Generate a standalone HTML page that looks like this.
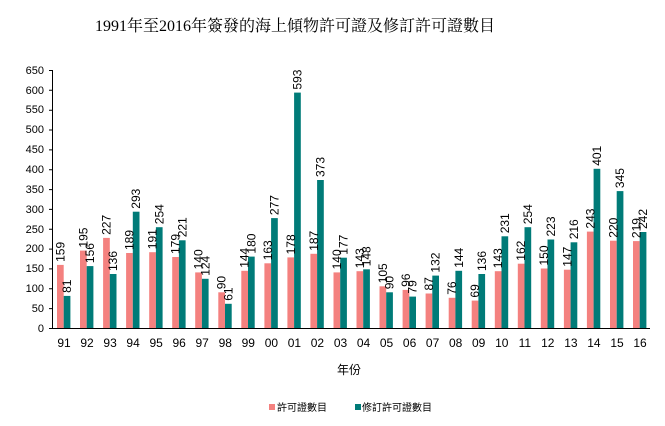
<!DOCTYPE html>
<html><head><meta charset="utf-8"><style>
body{margin:0;background:#fff}
svg{display:block}
text{font-family:"Liberation Sans","Noto Sans CJK TC",sans-serif;font-size:11px;fill:#000}
.l{dominant-baseline:central;font-size:12px}
.p{fill:#F4817F}.t{fill:#007B78}
</style></head><body>
<svg width="665" height="426" viewBox="0 0 665 426">
<text x="295" y="31" text-anchor="middle" style="font-family:'Liberation Serif','Noto Serif CJK SC',serif;font-size:16px">1991年至2016年簽發的海上傾物許可證及修訂許可證數目</text>
<g text-anchor="end">
<text x="44" y="332">0</text><text x="44" y="312">50</text><text x="44" y="292">100</text><text x="44" y="272">150</text><text x="44" y="252">200</text><text x="44" y="233">250</text><text x="44" y="213">300</text><text x="44" y="193">350</text><text x="44" y="173">400</text><text x="44" y="153">450</text><text x="44" y="133">500</text><text x="44" y="113">550</text><text x="44" y="94">600</text><text x="44" y="74">650</text>
</g>
<g stroke="#000" stroke-width="1">
<line x1="52.5" y1="70" x2="52.5" y2="328.5"/>
<line x1="52.5" y1="328.5" x2="650" y2="328.5"/>
<path d="M49 328.5h4M49 308.6h4M49 288.8h4M49 268.9h4M49 249.1h4M49 229.3h4M49 209.4h4M49 189.6h4M49 169.7h4M49 149.9h4M49 130h4M49 110.2h4M49 90.3h4M49 70.5h4"/>
</g>
<g id="bars">
<g transform="translate(52.5,0)"><rect class="p" x="4.5" y="264.9" width="6.7" height="63.1"/><rect class="t" x="11.2" y="295.9" width="6.7" height="32.1"/><text class="l" transform="translate(7.9,261.9) rotate(-90)">159</text><text class="l" transform="translate(14.6,292.9) rotate(-90)">81</text><text x="11.5" y="347" text-anchor="middle" style="font-size:12px">91</text></g>
<g transform="translate(75.5,0)"><rect class="p" x="4.5" y="250.6" width="6.7" height="77.4"/><rect class="t" x="11.2" y="266.1" width="6.7" height="61.9"/><text class="l" transform="translate(7.9,247.6) rotate(-90)">195</text><text class="l" transform="translate(14.6,263.1) rotate(-90)">156</text><text x="11.5" y="347" text-anchor="middle" style="font-size:12px">92</text></g>
<g transform="translate(98.6,0)"><rect class="p" x="4.5" y="237.9" width="6.7" height="90.1"/><rect class="t" x="11.2" y="274" width="6.7" height="54"/><text class="l" transform="translate(7.9,234.9) rotate(-90)">227</text><text class="l" transform="translate(14.6,271) rotate(-90)">136</text><text x="11.5" y="347" text-anchor="middle" style="font-size:12px">93</text></g>
<g transform="translate(121.6,0)"><rect class="p" x="4.5" y="253" width="6.7" height="75"/><rect class="t" x="11.2" y="211.7" width="6.7" height="116.3"/><text class="l" transform="translate(7.9,250) rotate(-90)">189</text><text class="l" transform="translate(14.6,208.7) rotate(-90)">293</text><text x="11.5" y="347" text-anchor="middle" style="font-size:12px">94</text></g>
<g transform="translate(144.7,0)"><rect class="p" x="4.5" y="252.2" width="6.7" height="75.8"/><rect class="t" x="11.2" y="227.2" width="6.7" height="100.8"/><text class="l" transform="translate(7.9,249.2) rotate(-90)">191</text><text class="l" transform="translate(14.6,224.2) rotate(-90)">254</text><text x="11.5" y="347" text-anchor="middle" style="font-size:12px">95</text></g>
<g transform="translate(167.7,0)"><rect class="p" x="4.5" y="257" width="6.7" height="71"/><rect class="t" x="11.2" y="240.3" width="6.7" height="87.7"/><text class="l" transform="translate(7.9,254) rotate(-90)">179</text><text class="l" transform="translate(14.6,237.3) rotate(-90)">221</text><text x="11.5" y="347" text-anchor="middle" style="font-size:12px">96</text></g>
<g transform="translate(190.7,0)"><rect class="p" x="4.5" y="272.4" width="6.7" height="55.6"/><rect class="t" x="11.2" y="278.8" width="6.7" height="49.2"/><text class="l" transform="translate(7.9,269.4) rotate(-90)">140</text><text class="l" transform="translate(14.6,275.8) rotate(-90)">124</text><text x="11.5" y="347" text-anchor="middle" style="font-size:12px">97</text></g>
<g transform="translate(213.8,0)"><rect class="p" x="4.5" y="292.3" width="6.7" height="35.7"/><rect class="t" x="11.2" y="303.8" width="6.7" height="24.2"/><text class="l" transform="translate(7.9,289.3) rotate(-90)">90</text><text class="l" transform="translate(14.6,300.8) rotate(-90)">61</text><text x="11.5" y="347" text-anchor="middle" style="font-size:12px">98</text></g>
<g transform="translate(236.8,0)"><rect class="p" x="4.5" y="270.8" width="6.7" height="57.2"/><rect class="t" x="11.2" y="256.6" width="6.7" height="71.4"/><text class="l" transform="translate(7.9,267.8) rotate(-90)">144</text><text class="l" transform="translate(14.6,253.6) rotate(-90)">180</text><text x="11.5" y="347" text-anchor="middle" style="font-size:12px">99</text></g>
<g transform="translate(259.9,0)"><rect class="p" x="4.5" y="263.3" width="6.7" height="64.7"/><rect class="t" x="11.2" y="218.1" width="6.7" height="109.9"/><text class="l" transform="translate(7.9,260.3) rotate(-90)">163</text><text class="l" transform="translate(14.6,215.1) rotate(-90)">277</text><text x="11.5" y="347" text-anchor="middle" style="font-size:12px">00</text></g>
<g transform="translate(282.9,0)"><rect class="p" x="4.5" y="257.4" width="6.7" height="70.6"/><rect class="t" x="11.2" y="92.6" width="6.7" height="235.4"/><text class="l" transform="translate(7.9,254.4) rotate(-90)">178</text><text class="l" transform="translate(14.6,89.6) rotate(-90)">593</text><text x="11.5" y="347" text-anchor="middle" style="font-size:12px">01</text></g>
<g transform="translate(305.9,0)"><rect class="p" x="4.5" y="253.8" width="6.7" height="74.2"/><rect class="t" x="11.2" y="180" width="6.7" height="148"/><text class="l" transform="translate(7.9,250.8) rotate(-90)">187</text><text class="l" transform="translate(14.6,177) rotate(-90)">373</text><text x="11.5" y="347" text-anchor="middle" style="font-size:12px">02</text></g>
<g transform="translate(329,0)"><rect class="p" x="4.5" y="272.4" width="6.7" height="55.6"/><rect class="t" x="11.2" y="257.7" width="6.7" height="70.3"/><text class="l" transform="translate(7.9,269.4) rotate(-90)">140</text><text class="l" transform="translate(14.6,254.7) rotate(-90)">177</text><text x="11.5" y="347" text-anchor="middle" style="font-size:12px">03</text></g>
<g transform="translate(352,0)"><rect class="p" x="4.5" y="271.2" width="6.7" height="56.8"/><rect class="t" x="11.2" y="269.3" width="6.7" height="58.7"/><text class="l" transform="translate(7.9,268.2) rotate(-90)">143</text><text class="l" transform="translate(14.6,266.3) rotate(-90)">148</text><text x="11.5" y="347" text-anchor="middle" style="font-size:12px">04</text></g>
<g transform="translate(375,0)"><rect class="p" x="4.5" y="286.3" width="6.7" height="41.7"/><rect class="t" x="11.2" y="292.3" width="6.7" height="35.7"/><text class="l" transform="translate(7.9,283.3) rotate(-90)">105</text><text class="l" transform="translate(14.6,289.3) rotate(-90)">90</text><text x="11.5" y="347" text-anchor="middle" style="font-size:12px">05</text></g>
<g transform="translate(398.1,0)"><rect class="p" x="4.5" y="289.9" width="6.7" height="38.1"/><rect class="t" x="11.2" y="296.6" width="6.7" height="31.4"/><text class="l" transform="translate(7.9,286.9) rotate(-90)">96</text><text class="l" transform="translate(14.6,293.6) rotate(-90)">79</text><text x="11.5" y="347" text-anchor="middle" style="font-size:12px">06</text></g>
<g transform="translate(421.1,0)"><rect class="p" x="4.5" y="293.5" width="6.7" height="34.5"/><rect class="t" x="11.2" y="275.6" width="6.7" height="52.4"/><text class="l" transform="translate(7.9,290.5) rotate(-90)">87</text><text class="l" transform="translate(14.6,272.6) rotate(-90)">132</text><text x="11.5" y="347" text-anchor="middle" style="font-size:12px">07</text></g>
<g transform="translate(444.2,0)"><rect class="p" x="4.5" y="297.8" width="6.7" height="30.2"/><rect class="t" x="11.2" y="270.8" width="6.7" height="57.2"/><text class="l" transform="translate(7.9,294.8) rotate(-90)">76</text><text class="l" transform="translate(14.6,267.8) rotate(-90)">144</text><text x="11.5" y="347" text-anchor="middle" style="font-size:12px">08</text></g>
<g transform="translate(467.2,0)"><rect class="p" x="4.5" y="300.6" width="6.7" height="27.4"/><rect class="t" x="11.2" y="274" width="6.7" height="54"/><text class="l" transform="translate(7.9,297.6) rotate(-90)">69</text><text class="l" transform="translate(14.6,271) rotate(-90)">136</text><text x="11.5" y="347" text-anchor="middle" style="font-size:12px">09</text></g>
<g transform="translate(490.3,0)"><rect class="p" x="4.5" y="271.2" width="6.7" height="56.8"/><rect class="t" x="11.2" y="236.3" width="6.7" height="91.7"/><text class="l" transform="translate(7.9,268.2) rotate(-90)">143</text><text class="l" transform="translate(14.6,233.3) rotate(-90)">231</text><text x="11.5" y="347" text-anchor="middle" style="font-size:12px">10</text></g>
<g transform="translate(513.3,0)"><rect class="p" x="4.5" y="263.7" width="6.7" height="64.3"/><rect class="t" x="11.2" y="227.2" width="6.7" height="100.8"/><text class="l" transform="translate(7.9,260.7) rotate(-90)">162</text><text class="l" transform="translate(14.6,224.2) rotate(-90)">254</text><text x="11.5" y="347" text-anchor="middle" style="font-size:12px">11</text></g>
<g transform="translate(536.3,0)"><rect class="p" x="4.5" y="268.5" width="6.7" height="59.5"/><rect class="t" x="11.2" y="239.5" width="6.7" height="88.5"/><text class="l" transform="translate(7.9,265.5) rotate(-90)">150</text><text class="l" transform="translate(14.6,236.5) rotate(-90)">223</text><text x="11.5" y="347" text-anchor="middle" style="font-size:12px">12</text></g>
<g transform="translate(559.4,0)"><rect class="p" x="4.5" y="269.7" width="6.7" height="58.3"/><rect class="t" x="11.2" y="242.3" width="6.7" height="85.7"/><text class="l" transform="translate(7.9,266.7) rotate(-90)">147</text><text class="l" transform="translate(14.6,239.3) rotate(-90)">216</text><text x="11.5" y="347" text-anchor="middle" style="font-size:12px">13</text></g>
<g transform="translate(582.4,0)"><rect class="p" x="4.5" y="231.6" width="6.7" height="96.4"/><rect class="t" x="11.2" y="168.8" width="6.7" height="159.2"/><text class="l" transform="translate(7.9,228.6) rotate(-90)">243</text><text class="l" transform="translate(14.6,165.8) rotate(-90)">401</text><text x="11.5" y="347" text-anchor="middle" style="font-size:12px">14</text></g>
<g transform="translate(605.5,0)"><rect class="p" x="4.5" y="240.7" width="6.7" height="87.3"/><rect class="t" x="11.2" y="191.1" width="6.7" height="136.9"/><text class="l" transform="translate(7.9,237.7) rotate(-90)">220</text><text class="l" transform="translate(14.6,188.1) rotate(-90)">345</text><text x="11.5" y="347" text-anchor="middle" style="font-size:12px">15</text></g>
<g transform="translate(628.5,0)"><rect class="p" x="4.5" y="241.1" width="6.7" height="86.9"/><rect class="t" x="11.2" y="232" width="6.7" height="96"/><text class="l" transform="translate(7.9,238.1) rotate(-90)">219</text><text class="l" transform="translate(14.6,229) rotate(-90)">242</text><text x="11.5" y="347" text-anchor="middle" style="font-size:12px">16</text></g>
</g>
<text x="349" y="374" text-anchor="middle" style="font-size:12px">年份</text>
<rect class="p" x="269" y="404" width="6" height="6"/>
<text x="277" y="411" style="font-size:10px">許可證數目</text>
<rect class="t" x="355" y="404" width="6" height="6"/>
<text x="362" y="411" style="font-size:10px">修訂許可證數目</text>
</svg>
</body></html>
